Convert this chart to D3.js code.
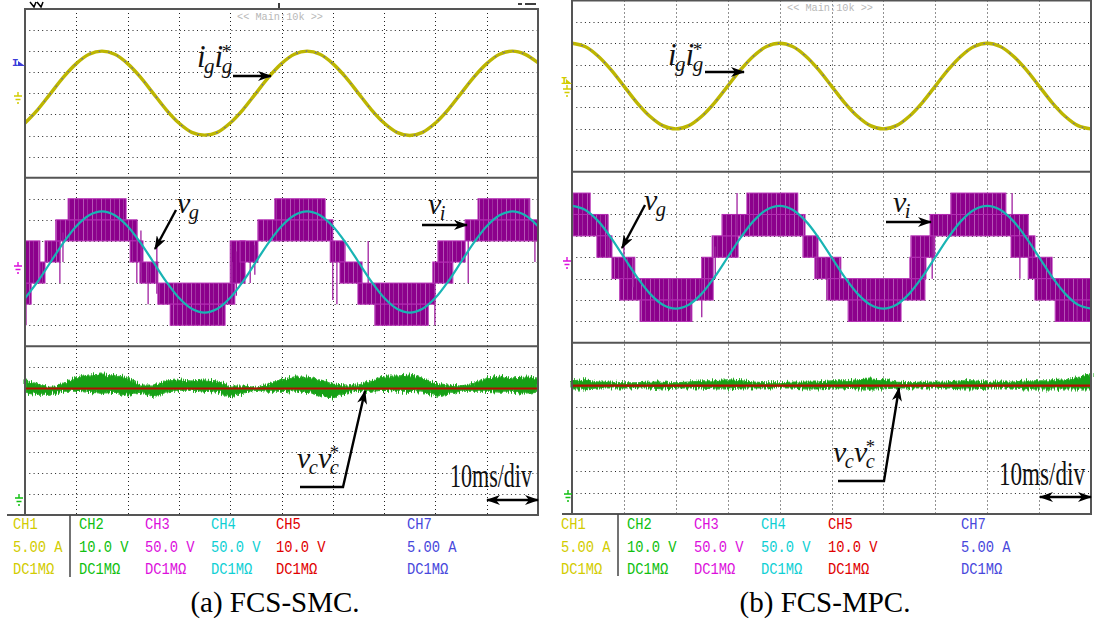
<!DOCTYPE html>
<html>
<head>
<meta charset="utf-8">
<script src="https://cdn.jsdelivr.net/npm/d3@7"></script>
<style>
  body { margin: 0; background: #fff; }
  svg { display: block; }
  .math { font-family: "Liberation Serif", "DejaVu Serif", serif; font-style: italic; fill: #111; }
  .mono { font-family: "Liberation Mono", "DejaVu Sans Mono", monospace; }
</style>
</head>
<body>
<div></div>
<script>
// sample instants (ms) the traces were read at
const time = d3.range(0, 100.01, 2.5);

// (a) FCS-SMC, values in divisions of each panel
const igA = [-1.41, -0.77, 0.00, 0.77, 1.41, 1.85, 2.00, 1.85, 1.41, 0.77,
  0.00, -0.77, -1.41, -1.85, -1.98, -1.85, -1.41, -0.77, 0.00, 0.77,
  1.41, 1.85, 2.00, 1.85, 1.41, 0.77, 0.00, -0.77, -1.41, -1.85,
  -2.00, -1.85, -1.41, -0.77, 0.00, 0.77, 1.41, 1.85, 2.00, 1.85, 1.45];
const vgA = [-1.72, -0.92, 0.00, 0.92, 1.70, 2.22, 2.40, 2.22, 1.70, 0.92,
  0.00, -0.92, -1.70, -2.22, -2.40, -2.22, -1.70, -0.92, 0.00, 0.92,
  1.70, 2.22, 2.40, 2.22, 1.70, 0.92, 0.00, -0.92, -1.70, -2.22,
  -2.40, -2.22, -1.70, -0.92, 0.00, 0.92, 1.70, 2.22, 2.40, 2.22, 1.70];
// v_i switching bands: [t start, t end, low level, high level]
const viBandsA = [[0, 1.2, -2, -1], [0, 2.9, -1, 1], [2.9, 3.9, -1, 0], [3.9, 6.8, 0, 1],
  [6.0, 21.8, 1, 2], [8.4, 19.7, 2, 3], [20.5, 23.0, 0, 1], [22.4, 25.9, -1, 0],
  [25.9, 40.9, -2, -1], [28.3, 39.0, -3, -2], [40.0, 42.9, -1, 1], [41.9, 45.4, 0, 1],
  [45.4, 60.0, 1, 2], [48.7, 58.5, 2, 3], [59.5, 62.4, 0, 1], [61.4, 65.7, -1, 0],
  [64.9, 79.9, -2, -1], [68.2, 78.6, -3, -2], [79.5, 83.4, -1, 0], [80.5, 85.8, 0, 1],
  [85.8, 100, 1, 2], [88.3, 98.4, 2, 3]];
// isolated switching spikes: [t, low, high]
const viSpikesA = [[0.2, -3, -1], [6.8, -1, 1], [7.4, 0, 1.4], [21.8, -1, 2], [22.6, -0.5, 1.5], [24.0, -2, 0], [25.7, -1.5, 1],
  [40.4, -2, 0], [41.2, -1.6, 0.5], [43.9, -1, 0], [44.8, -0.6, 0.8], [60.0, -1.8, 1], [60.8, -2, 0], [66.9, -1, 1],
  [79.9, -3, -1], [82.8, -1, 1], [86.4, -1, 1], [99.4, 0, 1]];
const vcUpA = [2.40, 2.21, 2.06, 2.25, 2.54, 2.63, 2.68, 2.63, 2.49, 2.16,
  2.16, 2.35, 2.40, 2.35, 2.40, 2.35, 2.11, 2.11, 2.06, 2.21,
  2.44, 2.54, 2.54, 2.40, 2.21, 2.16, 2.16, 2.35, 2.59, 2.59,
  2.63, 2.49, 2.25, 2.16, 2.11, 2.25, 2.49, 2.59, 2.49, 2.54, 2.49];
const vcLoA = [1.78, 1.73, 1.73, 1.87, 1.87, 1.83, 1.78, 1.83, 1.68, 1.78,
  1.59, 1.83, 1.92, 1.92, 1.87, 1.83, 1.59, 1.78, 1.92, 1.87,
  1.87, 1.83, 1.83, 1.68, 1.54, 1.78, 1.87, 1.87, 1.92, 1.87,
  1.87, 1.83, 1.64, 1.73, 1.87, 1.87, 1.87, 1.83, 1.83, 1.78, 1.83];

// (b) FCS-MPC
const igB = [2.00, 1.85, 1.41, 0.77, 0.00, -0.77, -1.41, -1.85, -2.00, -1.85,
  -1.41, -0.77, 0.00, 0.77, 1.41, 1.85, 2.00, 1.85, 1.41, 0.77,
  0.00, -0.77, -1.41, -1.85, -2.00, -1.85, -1.41, -0.77, 0.00, 0.77,
  1.41, 1.85, 2.00, 1.85, 1.41, 0.77, 0.00, -0.77, -1.41, -1.85, -2.00];
const vgB = [2.40, 2.22, 1.70, 0.92, 0.00, -0.92, -1.70, -2.22, -2.40, -2.22,
  -1.70, -0.92, 0.00, 0.92, 1.70, 2.22, 2.40, 2.22, 1.70, 0.92,
  0.00, -0.92, -1.70, -2.22, -2.40, -2.22, -1.70, -0.92, 0.00, 0.92,
  1.70, 2.22, 2.40, 2.22, 1.70, 0.92, 0.00, -0.92, -1.70, -2.22, -2.40];
const viBandsB = [[0, 3.5, 2, 3], [0, 6.9, 1, 2], [4.8, 7.7, 0, 1], [7.7, 12.1, -1, 0],
  [9.2, 27.2, -2, -1], [13.1, 23.1, -3, -2], [25.0, 27.2, -1, 0], [27.0, 32.0, 0, 1],
  [28.9, 44.9, 1, 2], [33.7, 43.5, 2, 3], [44.5, 47.4, 0, 1], [46.8, 51.8, -1, 0],
  [49.3, 68.0, -2, -1], [53.2, 63.4, -3, -2], [65.1, 68.2, -1, 0], [65.3, 69.9, 0, 1],
  [69.0, 87.9, 1, 2], [73.0, 83.6, 2, 3], [84.6, 89.2, 0, 1], [87.9, 92.5, -1, 0],
  [89.2, 100, -2, -1], [93.1, 100, -3, -2]];
const viSpikesB = [[6.9, 0, 2], [10.0, -1, 0.8], [11.8, -1.4, 0], [18.9, -2.5, -1], [25.0, -2.8, -1],
  [27.6, -1, 0.5], [31.8, 1, 3], [47.4, -1, 0], [49.1, -2, 0], [69.4, -1, 1],
  [84.8, 2, 3], [86.3, -1, 1], [97.3, -3, -2]];
const vcUpB = [2.22, 2.27, 2.17, 2.17, 2.13, 2.13, 2.17, 2.17, 2.13, 2.17,
  2.22, 2.22, 2.27, 2.22, 2.17, 2.13, 2.13, 2.17, 2.17, 2.17,
  2.22, 2.22, 2.27, 2.31, 2.27, 2.17, 2.13, 2.17, 2.17, 2.17,
  2.22, 2.22, 2.17, 2.17, 2.17, 2.22, 2.22, 2.22, 2.27, 2.36, 2.55];
const vcLoB = [1.85, 1.85, 1.89, 1.89, 1.89, 1.89, 1.89, 1.85, 1.89, 1.89,
  1.89, 1.85, 1.85, 1.89, 1.89, 1.89, 1.89, 1.89, 1.85, 1.85,
  1.89, 1.89, 1.85, 1.85, 1.85, 1.89, 1.89, 1.89, 1.89, 1.89,
  1.85, 1.85, 1.89, 1.89, 1.89, 1.85, 1.85, 1.85, 1.85, 1.85, 1.85];
const vcRef = 2.0;

// readout and captions
const channels = ["CH1", "CH2", "CH3", "CH4", "CH5", "CH7"];
const chScale = ["5.00 A", "10.0 V", "50.0 V", "50.0 V", "10.0 V", "5.00 A"];
const chCoupling = ["DC1MΩ", "DC1MΩ", "DC1MΩ", "DC1MΩ", "DC1MΩ", "DC1MΩ"];
const captions = ["(a) FCS-SMC.", "(b) FCS-MPC."];
const timebase = "10ms/div";
const zoomTag = "<< Main:10k >>";

const chColor = ["#d2cc00", "#10c010", "#dc10dc", "#10d0d4", "#e00000", "#4848dc"];

const scopes = [
  { x0: 25, x1: 538, y0: 9, y1: 515, ig: igA, vg: vgA, bands: viBandsA, spikes: viSpikesA, vcUp: vcUpA, vcLo: vcLoA,
    igLab: [197, 67], igArr: [[233, 76], [271, 76]], vgLab: [177, 213], vgArr: [[176, 210], [155, 249]],
    viLab: [428, 214], viArr: [[422, 225], [467, 225]], vcLab: [297, 468], vcArr: [[300, 487], [343, 487], [365, 391]],
    tb: [450, 487, 82], dbl: [487, 538, 500], tag: [237, 20], legLeft: 7, legSep: 70,
    cols: [13, 79, 145, 211, 276, 407], cap: 275, gnd: [[18, 92, "#d2cc00"], [18, 262, "#dc10dc"], [19, 494, "#10c010"]] },
  { x0: 572, x1: 1091, y0: 0.5, y1: 514, ig: igB, vg: vgB, bands: viBandsB, spikes: viSpikesB, vcUp: vcUpB, vcLo: vcLoB,
    igLab: [668, 65], igArr: [[705, 72], [744, 72]], vgLab: [644, 210], vgArr: [[645, 205], [622, 248]],
    viLab: [893, 212], viArr: [[886, 222], [931, 222]], vcLab: [833, 462], vcArr: [[838, 481], [884, 481], [899, 388]],
    tb: [999, 485, 86], dbl: [1040, 1091, 497], tag: [787, 11], legLeft: 562, legSep: 618,
    cols: [561, 627, 694, 761, 828, 961], cap: 825, gnd: [[567, 85, "#d2cc00"], [567, 257, "#dc10dc"], [568, 490, "#10c010"]] }
];

const svg = d3.select("div").append("svg").attr("width", 1095).attr("height", 621);
const defs = svg.append("defs");
defs.append("marker").attr("id", "head").attr("viewBox", "0 0 14 10").attr("refX", 13).attr("refY", 5)
  .attr("markerWidth", 14).attr("markerHeight", 10).attr("markerUnits", "userSpaceOnUse").attr("orient", "auto-start-reverse")
  .append("path").attr("d", "M0,0 L14,5 L0,10 L4,5 Z").attr("fill", "#000");
const rough = defs.append("filter").attr("id", "rough").attr("x", "-2%").attr("y", "-200%").attr("width", "104%").attr("height", "500%");
rough.append("feTurbulence").attr("type", "fractalNoise").attr("baseFrequency", "1.2 0.06").attr("numOctaves", 2).attr("seed", 4).attr("result", "n");
rough.append("feDisplacementMap").attr("in", "SourceGraphic").attr("in2", "n").attr("scale", 8).attr("xChannelSelector", "R").attr("yChannelSelector", "G");
// switching texture inside the PWM bands
const pwm = defs.append("pattern").attr("id", "pwm").attr("patternUnits", "userSpaceOnUse").attr("width", 9).attr("height", 6);
pwm.append("rect").attr("width", 9).attr("height", 6).attr("fill", "#8c008c");
pwm.append("line").attr("x1", 2.5).attr("x2", 2.5).attr("y1", 0).attr("y2", 6).attr("stroke", "#c878c8").attr("stroke-width", 0.7);
pwm.append("line").attr("x1", 6.5).attr("x2", 6.5).attr("y1", 0).attr("y2", 6).attr("stroke", "#a238a2").attr("stroke-width", 0.8);

const px = v => Math.round(v) + 0.5;

function mathLabel(g, x, y, size, parts) {
  const t = g.append("text").attr("class", "math").attr("x", x).attr("y", y).attr("font-size", size);
  let off = 0;
  parts.forEach(p => {
    t.append("tspan").attr("dy", -off).text(p.b);
    t.append("tspan").attr("dx", -0.05 * size).attr("dy", 0.2 * size).attr("font-size", size * 0.68).text(p.s);
    off = 0.2 * size;
    if (p.sup) {
      t.append("tspan").attr("dx", -p.sw * size).attr("dy", -0.5 * size).attr("font-size", size * 0.62)
        .style("font-style", "normal").text(p.sup);
      off = -0.3 * size;
    }
  });
}

function ground(g, x, y, color) {
  g.append("path").attr("d", `M${x},${y} V${y + 4} M${x - 4},${y + 4} H${x + 4} M${x - 2.5},${y + 7.5} H${x + 2.5} M${x - 1},${y + 11} H${x + 1}`)
    .attr("stroke", color).attr("stroke-width", 1.4).attr("fill", "none");
}

scopes.forEach((s, si) => {
  const g = svg.append("g");
  const x = d3.scaleLinear().domain([0, 100]).range([s.x0, s.x1]);
  const ph = (s.y1 - s.y0) / 3;
  const ys = [0, 1, 2].map(k => d3.scaleLinear().domain([-4, 4]).range([s.y0 + (k + 1) * ph, s.y0 + k * ph]));

  // dotted graticule
  g.selectAll(".vgrid").data(d3.range(10, 100, 10)).enter().append("line")
    .attr("x1", d => px(x(d))).attr("x2", d => px(x(d))).attr("y1", s.y0).attr("y2", s.y1)
    .attr("stroke", "#222").attr("stroke-width", 1).attr("stroke-dasharray", "1 3");
  ys.forEach(y => {
    g.append("g").selectAll("line").data(d3.range(-3, 4)).enter().append("line")
      .attr("x1", s.x0).attr("x2", s.x1).attr("y1", d => px(y(d))).attr("y2", d => px(y(d)))
      .attr("stroke", "#222").attr("stroke-width", 1).attr("stroke-dasharray", "1 3.3");
  });

  // top: grid current and its reference
  const igLine = d3.line().x((d, i) => x(time[i])).y(d => ys[0](d)).curve(d3.curveCatmullRom);
  g.append("path").attr("d", igLine(s.ig)).attr("fill", "none").attr("stroke", "#bdb600").attr("stroke-width", 3.4);
  g.append("path").attr("d", igLine(s.ig)).attr("fill", "none").attr("stroke", "#5050d0").attr("stroke-width", 1.2)
    .attr("stroke-dasharray", "1.5 8").attr("opacity", 0.8);

  // middle: inverter voltage bands and grid voltage
  const y1 = ys[1];
  g.selectAll(".band").data(s.bands).enter().append("rect")
    .attr("x", d => x(d[0])).attr("width", d => x(d[1]) - x(d[0]))
    .attr("y", d => y1(d[3])).attr("height", d => y1(d[2]) - y1(d[3]))
    .attr("fill", "url(#pwm)").attr("stroke", "#b42cb4").attr("stroke-width", 1);
  g.selectAll(".spike").data(s.spikes).enter().append("line")
    .attr("x1", d => x(d[0])).attr("x2", d => x(d[0])).attr("y1", d => y1(d[1])).attr("y2", d => y1(d[2]))
    .attr("stroke", "#a020a0").attr("stroke-width", 1.3);
  const vgLine = d3.line().x((d, i) => x(time[i])).y(d => y1(d)).curve(d3.curveCatmullRom);
  g.append("path").attr("d", vgLine(s.vg)).attr("fill", "none").attr("stroke", "#18b4b4").attr("stroke-width", 2.2);

  // bottom: capacitor voltage and reference
  const y2 = ys[2];
  const vcArea = d3.area().x((d, i) => x(time[i])).y0((d, i) => y2(s.vcLo[i])).y1(d => y2(d)).curve(d3.curveLinear);
  g.append("path").attr("d", vcArea(s.vcUp)).attr("fill", "#18a018").attr("stroke", "#30b030").attr("stroke-width", 1.2)
    .attr("filter", "url(#rough)");
  g.append("line").attr("x1", x(0)).attr("x2", x(100)).attr("y1", y2(vcRef)).attr("y2", y2(vcRef))
    .attr("stroke", "#c40000").attr("stroke-width", 2.2).attr("opacity", 0.9);

  // frame and panel separators
  g.append("rect").attr("x", s.x0).attr("y", s.y0).attr("width", s.x1 - s.x0).attr("height", s.y1 - s.y0)
    .attr("fill", "none").attr("stroke", "#555").attr("stroke-width", 2);
  [1, 2].forEach(k => g.append("line").attr("x1", s.x0).attr("x2", s.x1).attr("y1", ys[k](4)).attr("y2", ys[k](4))
    .attr("stroke", "#555").attr("stroke-width", 2));
  g.append("line").attr("x1", s.legLeft).attr("x2", s.x0).attr("y1", s.y1).attr("y2", s.y1).attr("stroke", "#555").attr("stroke-width", 2);
  g.append("line").attr("x1", s.legSep).attr("x2", s.legSep).attr("y1", s.y1).attr("y2", s.y1 + 62).attr("stroke", "#444").attr("stroke-width", 1.5);

  g.append("text").attr("class", "mono").attr("x", s.tag[0]).attr("y", s.tag[1]).attr("font-size", 10.5)
    .attr("textLength", 86).attr("lengthAdjust", "spacingAndGlyphs").attr("fill", "#b8b8b8").text(zoomTag);

  // channel markers
  s.gnd.forEach(d => ground(g, d[0], d[1], d[2]));
  if (si === 0) {
    g.append("text").attr("class", "mono").attr("x", 12).attr("y", 66).attr("font-size", 11).attr("font-weight", "bold").attr("fill", "#3c3cd8").text("I");
    g.append("path").attr("d", "M18,61 L25,66 L18,66 Z").attr("fill", "#3c3cd8");
    g.append("path").attr("d", "M30,2 L34,7 L36,2 M37,2 L41,7 L43,2 M279,3 V8 M518,4 H522 M525,4 H536").attr("stroke", "#000").attr("stroke-width", 1.5).attr("fill", "none");
  } else {
    g.append("text").attr("class", "mono").attr("x", 561).attr("y", 84).attr("font-size", 11).attr("font-weight", "bold").attr("fill", "#d2cc00").text("I");
    g.append("path").attr("d", "M566,79 L572,84 L566,84 Z").attr("fill", "#d2cc00");
  }

  // annotations
  mathLabel(g, s.igLab[0], s.igLab[1], 31, [{ b: "i", bw: 0.3, s: "g", sw: 0.34 }, { b: "i", bw: 0.3, s: "g", sw: 0.34, sup: "*" }]);
  mathLabel(g, s.vgLab[0], s.vgLab[1], 30, [{ b: "v", bw: 0.42, s: "g", sw: 0.34 }]);
  mathLabel(g, s.viLab[0], s.viLab[1], 30, [{ b: "v", bw: 0.42, s: "i", sw: 0.19 }]);
  mathLabel(g, s.vcLab[0], s.vcLab[1], 30, [{ b: "v", bw: 0.42, s: "c", sw: 0.3 }, { b: "v", bw: 0.42, s: "c", sw: 0.3, sup: "*" }]);
  [s.igArr, s.vgArr, s.viArr, s.vcArr].forEach(a => {
    g.append("path").attr("d", d3.line()(a)).attr("fill", "none").attr("stroke", "#000").attr("stroke-width", 2.4)
      .attr("marker-end", "url(#head)");
  });

  g.append("text").attr("x", s.tb[0]).attr("y", s.tb[1]).attr("font-family", "'Liberation Serif', serif").attr("font-size", 33)
    .attr("textLength", s.tb[2]).attr("lengthAdjust", "spacingAndGlyphs").attr("fill", "#111").text(timebase);
  g.append("line").attr("x1", s.dbl[0]).attr("x2", s.dbl[1]).attr("y1", s.dbl[2]).attr("y2", s.dbl[2])
    .attr("stroke", "#000").attr("stroke-width", 2.4).attr("marker-start", "url(#head)").attr("marker-end", "url(#head)");

  // readout
  const rows = [channels, chScale, chCoupling];
  rows.forEach((row, r) => {
    g.selectAll(".r" + r).data(row).enter().append("text").attr("class", "mono")
      .attr("transform", (d, i) => `translate(${s.cols[i]},${529 + r * 22.5}) scale(1,1.15)`)
      .attr("font-size", 13.8).attr("fill", (d, i) => chColor[i]).text(d => d);
  });

  g.append("text").attr("x", s.cap).attr("y", 612).attr("text-anchor", "middle")
    .attr("font-family", "'Liberation Serif', serif").attr("font-size", 29).attr("fill", "#000").text(captions[si]);
});
</script>
</body>
</html>
